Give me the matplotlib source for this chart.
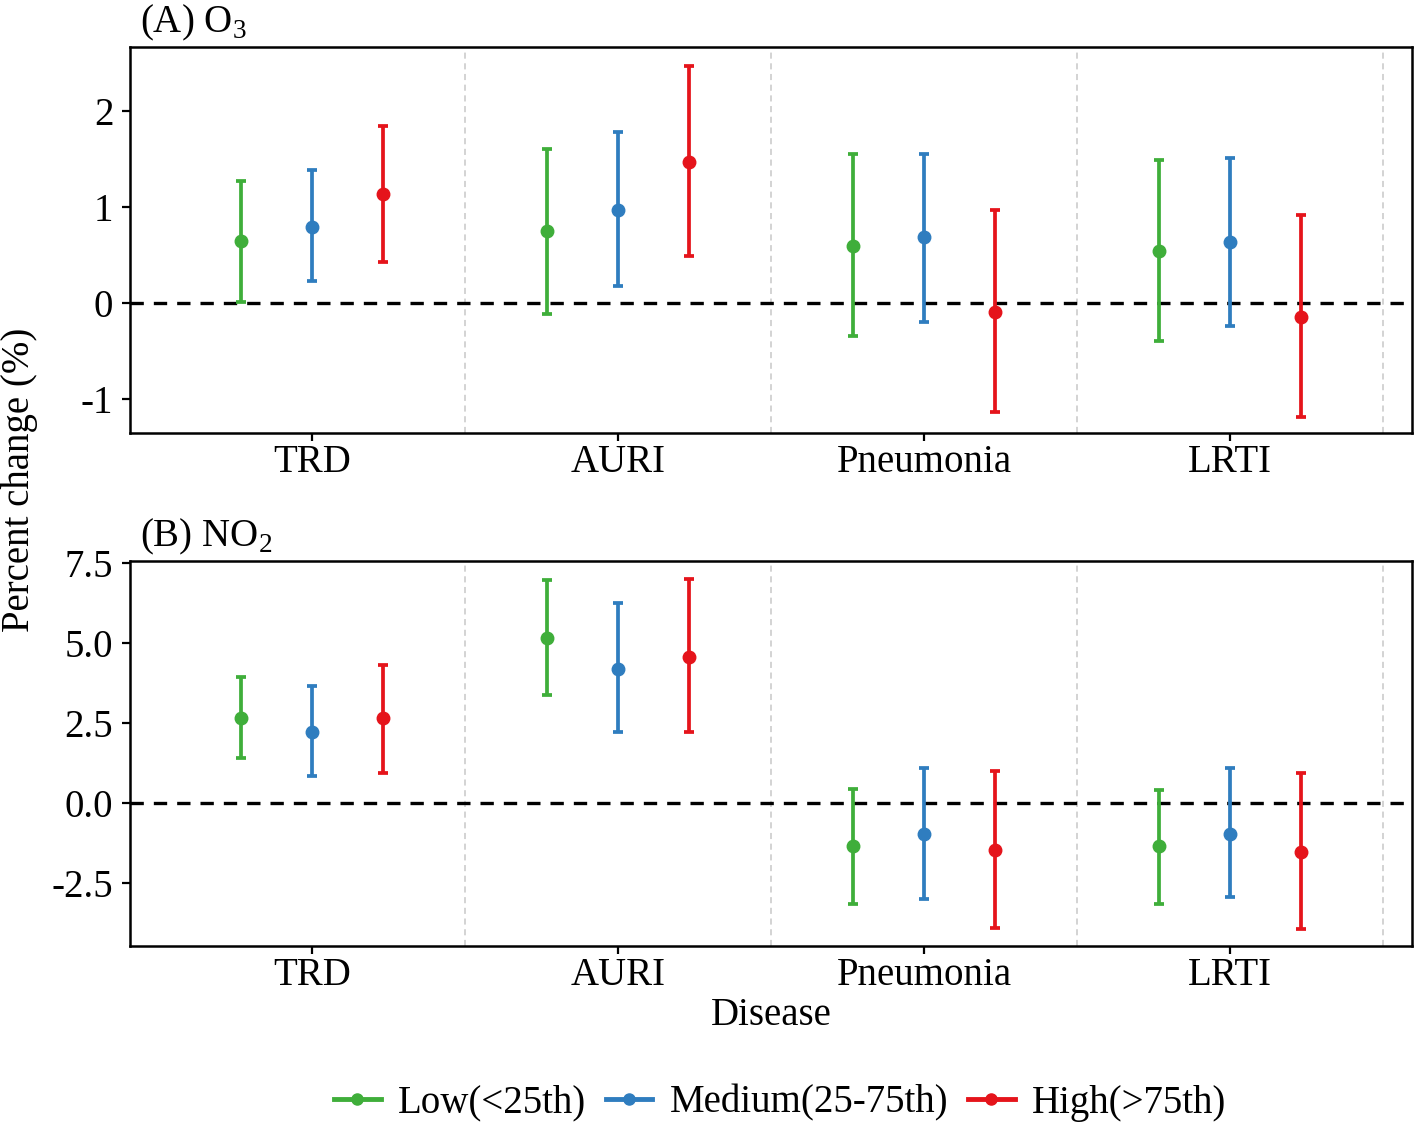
import matplotlib
matplotlib.use("Agg")
import matplotlib.pyplot as plt
from matplotlib.lines import Line2D
import numpy as np

plt.rcParams['font.family'] = ['Liberation Serif', 'DejaVu Serif']
plt.rcParams['mathtext.fontset'] = 'custom'
plt.rcParams['mathtext.rm'] = 'Liberation Serif'
plt.rcParams['axes.unicode_minus'] = False

diseases = ["TRD", "AURI", "Pneumonia", "LRTI"]
groups = ["Low(<25th)", "Medium(25-75th)", "High(>75th)"]
colors = ["#3fae3a", "#2f7dbf", "#e5141b"]

# panel A: O3, per group [TRD, AURI, Pneumonia, LRTI]
o3_est = [[0.65, 0.75, 0.60, 0.55],
          [0.80, 0.97, 0.69, 0.635],
          [1.14, 1.47, -0.09, -0.14]]
o3_lo = [[0.01, -0.11, -0.34, -0.39],
         [0.23, 0.18, -0.19, -0.24],
         [0.43, 0.49, -1.13, -1.18]]
o3_hi = [[1.27, 1.61, 1.56, 1.49],
         [1.39, 1.78, 1.56, 1.51],
         [1.85, 2.47, 0.97, 0.92]]

# panel B: NO2
no2_est = [[2.65, 5.13, -1.37, -1.37],
           [2.20, 4.17, -0.98, -0.98],
           [2.65, 4.56, -1.49, -1.54]]
no2_lo = [[1.38, 3.37, -3.16, -3.16],
          [0.82, 2.20, -3.01, -2.96],
          [0.93, 2.20, -3.91, -3.95]]
no2_hi = [[3.92, 6.95, 0.43, 0.39],
          [3.63, 6.25, 1.07, 1.07],
          [4.31, 7.00, 0.99, 0.94]]

fig = plt.figure(figsize=(14.16, 11.28), dpi=100)
axA = fig.add_axes([130/1416, 1-433/1128, 1282/1416, 386/1128])
axB = fig.add_axes([130/1416, 1-946/1128, 1282/1416, 385/1128])

offsets = [-0.233, 0.0, 0.233]
x = np.arange(len(diseases))

def draw(ax, est, lo, hi, ylim, yticks, ylabels, title):
    for sep in [0.5, 1.5, 2.5, 3.5]:
        ax.axvline(sep, color="#c8c8c8", lw=1.1, ls=(0, (4, 3)), zorder=0)
    ax.axhline(0, color="black", lw=2.4, ls=(0, (4, 3)), zorder=1)
    for i in range(3):
        e = np.array(est[i]); l = np.array(lo[i]); h = np.array(hi[i])
        ax.errorbar(x + offsets[i], e, yerr=[e - l, h - e], fmt='o',
                    color=colors[i], ms=9, elinewidth=2.7, capsize=3.5,
                    capthick=2.7, zorder=3)
    ax.set_xlim(-0.595, 3.595)
    ax.set_ylim(*ylim)
    ax.set_yticks(yticks)
    ax.set_yticklabels(ylabels)
    ax.set_xticks(x)
    ax.set_xticklabels(diseases)
    ax.tick_params(labelsize=28, width=1.6, length=6, pad=6, colors="black")
    ax.tick_params(axis="x", pad=2)
    for s in ax.spines.values():
        s.set_linewidth(1.8)
    ax.text(0.008, 1.01, title, transform=ax.transAxes, fontsize=28,
            ha="left", va="bottom")

draw(axA, o3_est, o3_lo, o3_hi, (-1.35, 2.67), [-1, 0, 1, 2],
     ["-1", "0", "1", "2"], "(A) O$_\\mathrm{3}$")
draw(axB, no2_est, no2_lo, no2_hi, (-4.48, 7.55),
     [-2.5, 0, 2.5, 5.0, 7.5], ["-2.5", "0.0", "2.5", "5.0", "7.5"],
     "(B) NO$_\\mathrm{2}$")

axB.set_xlabel("Disease", fontsize=28, labelpad=2)
fig.text(20/1416, 1-480/1128, "Percent change (%)", rotation=90,
         fontsize=28, ha="center", va="center")

handles = [Line2D([], [], color=c, lw=3.5, marker='o', ms=8) for c in colors]
fig.legend(handles, groups, loc="center", bbox_to_anchor=(0.551, 1-1103/1128),
           ncol=3, frameon=False, fontsize=28, handlelength=1.2,
           handletextpad=0.45, columnspacing=0.5)

fig.savefig("out.png", dpi=100)
